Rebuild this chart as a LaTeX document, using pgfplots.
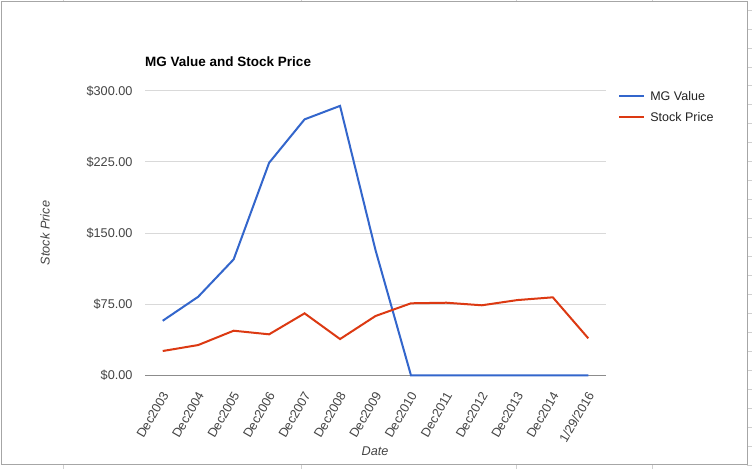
\documentclass[border=0pt]{standalone}
\usepackage{pgfplots}
\pgfplotsset{compat=1.18}
\usepackage{fontspec}
\setmainfont{Liberation Sans}
\definecolor{gblue}{HTML}{3366CC}
\definecolor{gred}{HTML}{DC3912}
\definecolor{gridc}{HTML}{D9D9D9}
\definecolor{basec}{HTML}{8C8C8C}
\definecolor{lblc}{HTML}{444444}
\definecolor{legc}{HTML}{222222}
\definecolor{framec}{HTML}{A6A6A6}
\definecolor{sheetc}{HTML}{D0D0D0}
\begin{document}
\begin{tikzpicture}[x=1pt,y=1pt]
\fill[white] (0,0) rectangle (752,469);
\useasboundingbox (0,0) rectangle (752,469);
% spreadsheet surroundings
\foreach \xx in {63,301,516.5,652} {
  \draw[sheetc, line width=0.8pt] (\xx,467.3) -- (\xx,469);
  \draw[sheetc, line width=0.8pt] (\xx,0) -- (\xx,4.7);
}
\foreach \k in {0,...,24} {
  \draw[sheetc, line width=0.8pt] (747.3,{469-10-18.97*\k}) -- (752,{469-10-18.97*\k});
}
\draw[framec, line width=1pt] (1,4.7) rectangle (747.3,467.3);
\begin{axis}[
  at={(145pt,93.7pt)}, anchor=south west,
  scale only axis, width=461pt, height=284.6pt,
  xmin=-0.5, xmax=12.5, ymin=0, ymax=300,
  axis line style={draw=none},
  major tick length=0pt,
  xtick={0,...,12},
  xticklabels={Dec2003,Dec2004,Dec2005,Dec2006,Dec2007,Dec2008,Dec2009,Dec2010,Dec2011,Dec2012,Dec2013,Dec2014,1/29/2016},
  ytick={0,75,150,225,300},
  yticklabels={\$0.00,\$75.00,\$150.00,\$225.00,\$300.00},
  ymajorgrids, grid style={gridc, line width=1pt},
  extra y ticks={0}, extra y tick labels={},
  extra y tick style={grid style={basec, line width=1pt}},
  tick label style={font=\fontsize{12.7}{14}\selectfont, text=lblc},
  yticklabel style={anchor=east, inner sep=0pt, text height=9.1pt, text depth=0pt},
  yticklabel shift=12.3pt,
  xticklabel style={xshift=2.5pt, rotate=60, anchor=east, inner sep=0pt, text height=9.1pt, text depth=0pt},
  xticklabel shift=17.2pt,
  clip=false,
  legend style={at={(1.0267,0.9974)}, anchor=north west, draw=none, fill=none,
    inner sep=0pt, outer sep=0pt, row sep=11.9pt, column sep=5pt,
    font=\fontsize{12.5}{14}\selectfont, text=legc,
    nodes={inner sep=0pt, text height=9.1pt, text depth=0pt}},
  legend cell align=left,
  legend image code/.code={\draw[#1] (0pt,0pt) -- (25pt,0pt);},
]
\addplot[gblue, line width=2pt] coordinates {(0,57.5)(1,82.8)(2,122.2)(3,224)(4,269.8)(5,284)(6,132)(7,0)(8,0)(9,0)(10,0)(11,0)(12,0)};
\addlegendentry{MG Value}
\addplot[gred, line width=2pt] coordinates {(0,25.6)(1,31.9)(2,47)(3,43.2)(4,65.3)(5,38.2)(6,62.5)(7,75.9)(8,76.5)(9,73.8)(10,79.3)(11,82.2)(12,39)};
\addlegendentry{Stock Price}
\end{axis}
\node[anchor=base west, font=\fontsize{13.5}{16}\bfseries, text=black, inner sep=0pt] at (145,402.3) {MG Value and Stock Price};
\node[font=\fontsize{12.7}{14}\itshape, text=lblc, inner sep=0pt] at (375,18) {Date};
\node[rotate=90, font=\fontsize{12.7}{14}\itshape, text=lblc, inner sep=0pt] at (45,236) {Stock Price};
\end{tikzpicture}
\end{document}
